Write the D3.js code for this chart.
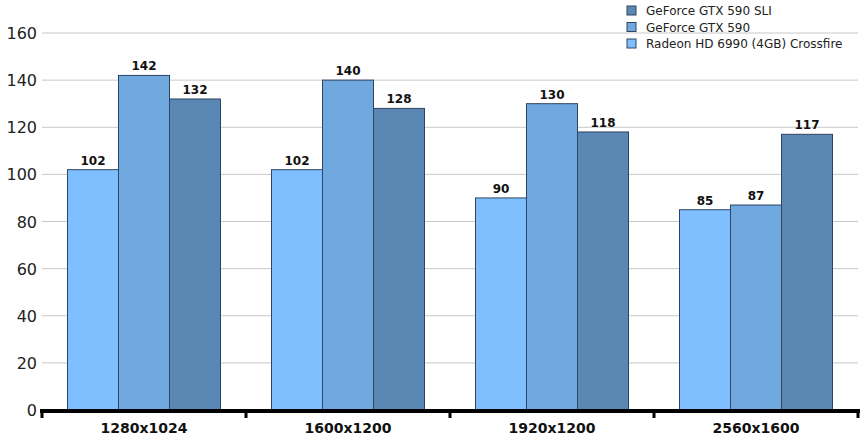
<!DOCTYPE html><html><head><meta charset="utf-8"><script src="https://cdn.jsdelivr.net/npm/d3@7"></script>
<style>body{margin:0;background:#fff}text{font-family:Verdana,"DejaVu Sans",sans-serif}</style></head><body><svg id="c" width="866" height="444"></svg>
<script>
const categories=["1280x1024","1600x1200","1920x1200","2560x1600"];
const seriesNames=["Radeon HD 6990 (4GB) Crossfire","GeForce GTX 590","GeForce GTX 590 SLI"];
const radeon=[102,102,90,85];
const gtx590=[142,140,130,87];
const gtx590sli=[132,128,118,117];
const yTicks=[0,20,40,60,80,100,120,140,160];
const colors=["#80bfff","#70a8e0","#5b87b5"];
const series=[radeon,gtx590,gtx590sli];
const svg=d3.select("#c");
const x=d3.scaleBand().domain(categories).range([42,858]).paddingInner(0.25).paddingOuter(0.125);
const xo=d3.scaleBand().domain(categories).range([42,858]);
const y=d3.scaleLinear().domain([0,160]).range([410,33]);
const inner=d3.scaleBand().domain([0,1,2]).range([0,x.bandwidth()]);
svg.append("g").selectAll("line").data(yTicks.slice(1)).join("line")
 .attr("x1",42).attr("x2",858).attr("y1",d=>y(d)).attr("y2",d=>y(d)).attr("stroke","#c8c8c8");
svg.append("g").selectAll("text").data(yTicks).join("text").attr("x",37).attr("y",d=>y(d)+6)
 .attr("text-anchor","end").attr("font-size",16).attr("fill","#222").text(d=>d);
series.forEach((s,i)=>{
 const g=svg.append("g");
 g.selectAll("rect").data(s).join("rect").attr("x",(d,j)=>x(categories[j])+inner(i)).attr("y",d=>y(d))
  .attr("width",inner.bandwidth()).attr("height",d=>y(0)-y(d)).attr("fill",colors[i]).attr("stroke","#2f4460").attr("stroke-width",1);
 g.selectAll("text").data(s).join("text").attr("x",(d,j)=>x(categories[j])+inner(i)+inner.bandwidth()/2).attr("y",d=>y(d)-5)
  .attr("text-anchor","middle").attr("font-size",12).attr("font-weight","bold").attr("fill","#111").text(d=>d);
});
svg.append("line").attr("x1",40).attr("x2",860).attr("y1",411).attr("y2",411).attr("stroke","#000").attr("stroke-width",4);
const bounds=categories.map(c=>xo(c)).concat([858]);
svg.append("g").selectAll("line").data(bounds).join("line").attr("x1",d=>d).attr("x2",d=>d).attr("y1",409).attr("y2",418).attr("stroke","#000").attr("stroke-width",3);
svg.append("g").selectAll("text").data(categories).join("text").attr("x",d=>xo(d)+xo.bandwidth()/2).attr("y",433)
 .attr("text-anchor","middle").attr("font-size",14).attr("font-weight","bold").attr("fill","#111").text(d=>d);
const leg=[2,1,0];
const lg=svg.append("g");
leg.forEach((k,r)=>{
 lg.append("rect").attr("x",627).attr("y",6+r*16.5).attr("width",9).attr("height",9).attr("fill",colors[k]).attr("stroke","#2f4460");
 lg.append("text").attr("x",646).attr("y",15+r*16.5).attr("font-size",12).attr("fill","#222").text(seriesNames[k]);
});
</script></body></html>
